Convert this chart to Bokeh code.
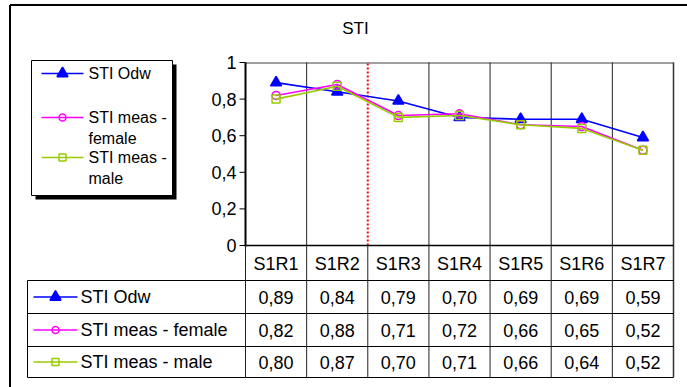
from bokeh.plotting import figure
from bokeh.models import Range1d
from bokeh.core.properties import value
from bokeh.embed import file_html
from bokeh.resources import INLINE

# ---------------- data ----------------
title = "STI"
categories = ["S1R1", "S1R2", "S1R3", "S1R4", "S1R5", "S1R6", "S1R7"]
sti_odw = [0.89, 0.84, 0.79, 0.70, 0.69, 0.69, 0.59]
sti_female = [0.82, 0.88, 0.71, 0.72, 0.66, 0.65, 0.52]
sti_male = [0.80, 0.87, 0.70, 0.71, 0.66, 0.64, 0.52]
series_names = ["STI Odw", "STI meas - female", "STI meas - male"]
legend_lines = [["STI Odw"], ["STI meas -", "female"], ["STI meas -", "male"]]
y_ticks = [0, 0.2, 0.4, 0.6, 0.8, 1.0]
y_tick_labels = ["0", "0,2", "0,4", "0,6", "0,8", "1"]
marker_boundary = 2  # red dotted line between S1R2 and S1R3

# ---------------- layout (pixels) ----------------
W, H = 687, 387
PX_LEFT, PX_RIGHT = 245, 673
PX_TOP, PX_ZERO = 62, 245
n = len(categories)
CW = (PX_RIGHT - PX_LEFT) / n
YS = (PX_ZERO - PX_TOP) / 1.0
FONT = value("Liberation Sans")
TABLE_FS = "18px"
LEGEND_FS = "16px"
TICK_FS = "18px"


def dx(px):
    return (px - PX_LEFT) / CW


def dy(py):
    return (PX_ZERO - py) / YS


p = figure(width=W, height=H, x_range=Range1d(dx(0), dx(W)), y_range=Range1d(dy(H), dy(0)),
           output_backend="svg", toolbar_location=None, x_axis_location=None,
           y_axis_location=None, min_border=0)
p.outline_line_color = None
p.background_fill_color = "white"
p.border_fill_color = "white"
p.xgrid.visible = False
p.ygrid.visible = False


def seg(x0, y0, x1, y1, color="black", width=1, dash="solid"):
    p.segment(x0=[dx(x0)], y0=[dy(y0)], x1=[dx(x1)], y1=[dy(y1)], line_color=color,
              line_width=width, line_dash=dash)


def txt(x, y, s, size="16px", align="left"):
    p.text(x=[dx(x)], y=[dy(y)], text=[s], text_font=FONT, text_font_size=size,
           text_align=align, text_baseline="middle", text_color="black")


# outer chart border
seg(9.5, 387, 9.5, 4.5, width=2)
seg(9.5, 4.5, 687, 4.5, width=2)

# title
txt(355, 28, title, size="17px", align="center")

# plot area borders
seg(PX_LEFT, PX_TOP + 0.5, PX_RIGHT, PX_TOP + 0.5, color="#808080", width=1.5)
bx = [PX_LEFT + i * CW for i in range(n + 1)]
for i in range(1, n):
    if i == marker_boundary:
        continue
    seg(bx[i], PX_TOP, bx[i], PX_ZERO, color="#222222", width=1)
seg(PX_RIGHT, PX_TOP, PX_RIGHT, 377, color="#333333", width=1.5)

# y axis
seg(PX_LEFT, PX_TOP, PX_LEFT, PX_ZERO + 1, width=2)
for t, lab in zip(y_ticks, y_tick_labels):
    p.segment(x0=[dx(PX_LEFT - 6)], y0=[t], x1=[dx(PX_LEFT)], y1=[t], line_color="black", line_width=1)
    p.text(x=[dx(236)], y=[t], text=[lab], text_font=FONT, text_font_size=TICK_FS,
           text_align="right", text_baseline="middle", text_color="black")

# red dotted separator
p.segment(x0=[marker_boundary], y0=[0], x1=[marker_boundary], y1=[1], line_color="red",
          line_width=2, line_dash="2 2")

# ---------------- table ----------------
ROW_Y = [245, 280, 313, 346, 377]
TBL_LEFT = 27
seg(PX_LEFT, ROW_Y[0], PX_RIGHT, ROW_Y[0], width=1.5)
for ry in ROW_Y[1:]:
    seg(TBL_LEFT, ry, PX_RIGHT, ry, width=1)
seg(TBL_LEFT, ROW_Y[1], TBL_LEFT, ROW_Y[-1], width=1)
for i in range(0, n):
    seg(bx[i], ROW_Y[0], bx[i], ROW_Y[-1], color="#222222", width=1)

xc = [i + 0.5 for i in range(n)]
hy = dy((ROW_Y[0] + ROW_Y[1]) / 2 + 0.5)
p.text(x=xc, y=[hy] * n, text=categories, text_font=FONT, text_font_size=TABLE_FS,
       text_align="center", text_baseline="middle", text_color="black")

series = [sti_odw, sti_female, sti_male]
colors = ["#0000FF", "#FF00FF", "#99CC00"]
markers = ["triangle", "circle", "square"]
msizes = [11, 8, 8]
fills = ["#0000FF", None, None]

for r, vals in enumerate(series):
    cy = dy((ROW_Y[r + 1] + ROW_Y[r + 2]) / 2)
    p.text(x=xc, y=[cy] * n, text=[f"{v:.2f}".replace(".", ",") for v in vals], text_font=FONT,
           text_font_size=TABLE_FS, text_align="center", text_baseline="middle", text_color="black")

# ---------------- data series ----------------
for vals, c, m, s, f in zip(series, colors, markers, msizes, fills):
    p.line(x=xc, y=vals, line_color=c, line_width=1.6)
    p.scatter(x=xc, y=vals, marker=m, size=s, line_color=c, line_width=1.5,
              fill_color=f if f else "white", fill_alpha=1.0 if f else 0.0)


def key(xl, xr, y, k):
    p.segment(x0=[dx(xl)], y0=[dy(y)], x1=[dx(xr)], y1=[dy(y)], line_color=colors[k], line_width=1.6)
    fc = fills[k]
    p.scatter(x=[dx((xl + xr) / 2)], y=[dy(y)], marker=markers[k], size=msizes[k] - 1 if k else msizes[k],
              line_color=colors[k], line_width=1.5, fill_color=fc if fc else "white",
              fill_alpha=1.0 if fc else 0.0)


# table keys
for r, name in enumerate(series_names):
    cy = (ROW_Y[r + 1] + ROW_Y[r + 2]) / 2
    key(33, 77, cy, r)
    txt(80, cy, name, size=TABLE_FS)

# ---------------- legend box ----------------
LG = (31, 172, 60, 195)
p.quad(left=[dx(LG[0] + 4)], right=[dx(LG[1] + 4)], top=[dy(LG[2] + 4)], bottom=[dy(LG[3] + 4)],
       fill_color="black", line_color=None)
p.quad(left=[dx(LG[0])], right=[dx(LG[1])], top=[dy(LG[2])], bottom=[dy(LG[3])],
       fill_color="white", line_color="black", line_width=1)
entry_y = [73, 117, 157]
for k, lines in enumerate(legend_lines):
    key(41, 83, entry_y[k], k)
    for j, s in enumerate(lines):
        txt(88, entry_y[k] + j * 21, s, size=LEGEND_FS)

open("out.html", "w").write(file_html(p, INLINE))
